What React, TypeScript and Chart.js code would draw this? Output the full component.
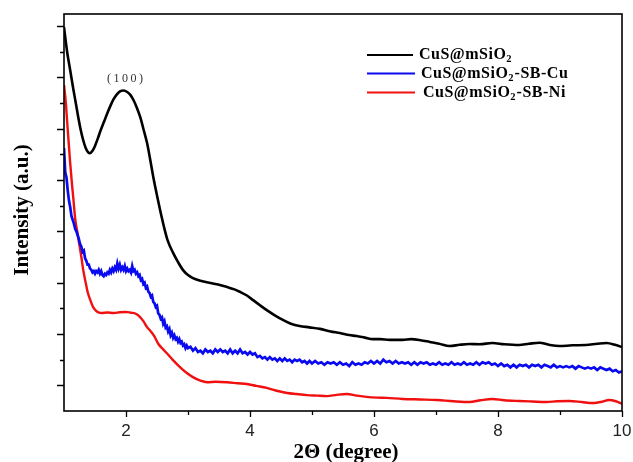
import React, { useEffect, useRef } from "react";
import { Chart, registerables } from "chart.js";

Chart.register(...registerables);

const seriesNames = ["CuS@mSiO", "CuS@mSiO", "CuS@mSiO"];
const seriesSuffix = ["", "-SB-Cu", "-SB-Ni"];
const seriesColors = ["#000000", "#0a0af0", "#f01010"];

const xTickValues = [2, 4, 6, 8, 10];
const xMinorTicks = [3, 5, 7, 9];
const yTickValues = [1, 2, 3, 4, 5, 6, 7, 8, 9, 10, 11, 12, 13, 14, 15];
const xMin = 1;
const xMax = 10;
const yMin = 0;
const yMax = 15.47;

const peakLabel = "(100)";
const xTitle = "2Θ (degree)";
const yTitle = "Intensity (a.u.)";

const blackData: number[][] = [
  [1.0, 14.96], [1.05, 14.0], [1.1, 13.28], [1.15, 12.55], [1.19, 12.0], [1.23, 11.45], [1.27, 10.95],
  [1.31, 10.55], [1.35, 10.25], [1.39, 10.08], [1.42, 10.05], [1.46, 10.14], [1.5, 10.33], [1.55, 10.65],
  [1.59, 10.93], [1.65, 11.3], [1.7, 11.61], [1.75, 11.9], [1.8, 12.15], [1.85, 12.33], [1.91, 12.46],
  [1.96, 12.49], [2.02, 12.43], [2.07, 12.32], [2.12, 12.12], [2.17, 11.85], [2.23, 11.45], [2.28, 11.0],
  [2.34, 10.44], [2.39, 9.8], [2.44, 9.12], [2.5, 8.4], [2.55, 7.83], [2.61, 7.2], [2.67, 6.66],
  [2.76, 6.16], [2.84, 5.8], [2.92, 5.49], [3.0, 5.3], [3.08, 5.18], [3.2, 5.08], [3.36, 4.99],
  [3.5, 4.92], [3.63, 4.83], [3.75, 4.74], [3.84, 4.64], [3.95, 4.5], [4.05, 4.32], [4.16, 4.12],
  [4.27, 3.93], [4.4, 3.73], [4.53, 3.55], [4.66, 3.4], [4.8, 3.31], [4.96, 3.26], [5.13, 3.2],
  [5.3, 3.1], [5.45, 3.04], [5.6, 2.96], [5.72, 2.92], [5.85, 2.86], [5.98, 2.8], [6.1, 2.8],
  [6.25, 2.77], [6.46, 2.77], [6.6, 2.8], [6.75, 2.76], [6.9, 2.69], [7.05, 2.62], [7.22, 2.53],
  [7.38, 2.58], [7.54, 2.61], [7.7, 2.6], [7.91, 2.65], [8.1, 2.6], [8.34, 2.57], [8.5, 2.62],
  [8.67, 2.66], [8.82, 2.58], [8.99, 2.53], [9.2, 2.56], [9.42, 2.57], [9.6, 2.62], [9.75, 2.65],
  [9.9, 2.57], [10.0, 2.49],
];

const blueData: number[][] = [
  [1.0, 10.25], [1.02, 9.3], [1.04, 9.1], [1.06, 8.6], [1.08, 8.2], [1.1, 7.95], [1.12, 7.6], [1.14, 7.45],
  [1.16, 7.3], [1.18, 7.1], [1.2, 7.0], [1.22, 6.85], [1.24, 6.7], [1.26, 6.5], [1.28, 6.4], [1.3, 6.2],
  [1.32, 6.25], [1.34, 5.95], [1.36, 5.85], [1.38, 5.7], [1.4, 5.7], [1.42, 5.55], [1.44, 5.5], [1.46, 5.4],
  [1.48, 5.45], [1.5, 5.35], [1.52, 5.45], [1.54, 5.4], [1.56, 5.5], [1.58, 5.35], [1.6, 5.45], [1.62, 5.3],
  [1.64, 5.25], [1.66, 5.35], [1.68, 5.3], [1.7, 5.4], [1.72, 5.35], [1.74, 5.5], [1.76, 5.4], [1.78, 5.55],
  [1.8, 5.45], [1.82, 5.6], [1.84, 5.5], [1.86, 5.75], [1.88, 5.55], [1.9, 5.7], [1.92, 5.5], [1.94, 5.6],
  [1.96, 5.5], [1.98, 5.65], [2.0, 5.45], [2.02, 5.55], [2.04, 5.45], [2.06, 5.5], [2.08, 5.4], [2.1, 5.65],
  [2.12, 5.45], [2.14, 5.5], [2.16, 5.35], [2.18, 5.4], [2.2, 5.25], [2.22, 5.3], [2.24, 5.1], [2.26, 5.15],
  [2.28, 4.95], [2.3, 5.0], [2.32, 4.8], [2.34, 4.85], [2.36, 4.65], [2.38, 4.6], [2.4, 4.45], [2.42, 4.5],
  [2.44, 4.25], [2.46, 4.2], [2.48, 4.05], [2.5, 4.1], [2.52, 3.8], [2.54, 3.75], [2.56, 3.6], [2.58, 3.65],
  [2.6, 3.4], [2.62, 3.5], [2.64, 3.25], [2.66, 3.3], [2.68, 3.1], [2.7, 3.2], [2.72, 2.95], [2.74, 3.05],
  [2.76, 2.85], [2.78, 2.95], [2.8, 2.8], [2.82, 2.85], [2.84, 2.7], [2.86, 2.8], [2.88, 2.65], [2.9, 2.7],
  [2.92, 2.55], [2.94, 2.6], [2.96, 2.45], [2.98, 2.55], [3.0, 2.45], [3.04, 2.5], [3.08, 2.35], [3.12, 2.45],
  [3.16, 2.3], [3.2, 2.35], [3.24, 2.25], [3.28, 2.4], [3.32, 2.3], [3.36, 2.35], [3.4, 2.25], [3.44, 2.4],
  [3.48, 2.3], [3.52, 2.4], [3.56, 2.3], [3.6, 2.35], [3.64, 2.25], [3.68, 2.4], [3.72, 2.25], [3.76, 2.35],
  [3.8, 2.25], [3.84, 2.4], [3.88, 2.25], [3.92, 2.3], [3.96, 2.2], [4.0, 2.3], [4.04, 2.2], [4.08, 2.25],
  [4.12, 2.1], [4.16, 2.15], [4.2, 2.05], [4.24, 2.1], [4.28, 2.0], [4.32, 2.1], [4.36, 2.0], [4.4, 2.05],
  [4.44, 1.95], [4.48, 2.05], [4.52, 1.95], [4.56, 2.05], [4.6, 1.95], [4.64, 2.0], [4.68, 1.9], [4.72, 2.0],
  [4.76, 1.95], [4.8, 2.0], [4.84, 1.9], [4.88, 1.95], [4.92, 1.85], [4.96, 1.95], [5.0, 1.85], [5.05, 1.95],
  [5.1, 1.85], [5.15, 1.9], [5.2, 1.8], [5.25, 1.9], [5.3, 1.85], [5.35, 1.9], [5.4, 1.8], [5.45, 1.9],
  [5.5, 1.8], [5.55, 1.85], [5.6, 1.75], [5.65, 1.9], [5.7, 1.8], [5.75, 1.85], [5.8, 1.8], [5.85, 1.9],
  [5.9, 1.85], [5.95, 1.95], [6.0, 1.85], [6.05, 1.95], [6.1, 1.85], [6.15, 2.0], [6.2, 1.9], [6.25, 1.95],
  [6.3, 1.85], [6.35, 1.95], [6.4, 1.85], [6.45, 1.9], [6.5, 1.85], [6.55, 1.9], [6.6, 1.8], [6.65, 1.9],
  [6.7, 1.8], [6.75, 1.9], [6.8, 1.85], [6.85, 1.9], [6.9, 1.8], [6.95, 1.85], [7.0, 1.8], [7.05, 1.9],
  [7.1, 1.8], [7.15, 1.85], [7.2, 1.8], [7.25, 1.9], [7.3, 1.8], [7.35, 1.85], [7.4, 1.8], [7.45, 1.9],
  [7.5, 1.8], [7.55, 1.85], [7.6, 1.8], [7.65, 1.9], [7.7, 1.8], [7.75, 1.9], [7.8, 1.85], [7.85, 1.9],
  [7.9, 1.8], [7.95, 1.85], [8.0, 1.75], [8.05, 1.85], [8.1, 1.75], [8.15, 1.8], [8.2, 1.7], [8.25, 1.8],
  [8.3, 1.7], [8.35, 1.8], [8.4, 1.75], [8.45, 1.8], [8.5, 1.7], [8.55, 1.8], [8.6, 1.75], [8.65, 1.8],
  [8.7, 1.7], [8.75, 1.8], [8.8, 1.75], [8.85, 1.7], [8.9, 1.8], [8.95, 1.7], [9.0, 1.75], [9.05, 1.7],
  [9.1, 1.75], [9.15, 1.7], [9.2, 1.75], [9.25, 1.65], [9.3, 1.75], [9.35, 1.7], [9.4, 1.65], [9.45, 1.7],
  [9.5, 1.65], [9.55, 1.7], [9.6, 1.6], [9.65, 1.7], [9.7, 1.65], [9.75, 1.6], [9.8, 1.65], [9.85, 1.55],
  [9.9, 1.6], [9.95, 1.5], [10.0, 1.55],
];

const redData: number[][] = [
  [1.0, 12.7], [1.03, 12.0], [1.05, 11.3], [1.08, 10.3], [1.1, 9.66], [1.13, 8.8], [1.15, 8.3], [1.18, 7.5],
  [1.22, 6.9], [1.25, 6.45], [1.28, 6.0], [1.31, 5.5], [1.35, 5.0], [1.38, 4.65], [1.42, 4.35], [1.47, 4.05],
  [1.53, 3.88], [1.6, 3.82], [1.7, 3.84], [1.8, 3.82], [1.9, 3.85], [2.0, 3.86], [2.08, 3.83], [2.15, 3.8],
  [2.22, 3.68], [2.28, 3.5], [2.34, 3.27], [2.4, 3.1], [2.46, 2.9], [2.52, 2.62], [2.6, 2.4], [2.67, 2.22],
  [2.75, 2.0], [2.87, 1.71], [2.97, 1.5], [3.08, 1.32], [3.2, 1.18], [3.31, 1.12], [3.45, 1.14], [3.63, 1.12],
  [3.8, 1.08], [3.95, 1.05], [4.1, 0.98], [4.27, 0.9], [4.45, 0.78], [4.6, 0.7], [4.75, 0.66], [4.92, 0.62],
  [5.08, 0.6], [5.24, 0.58], [5.4, 0.63], [5.56, 0.66], [5.72, 0.6], [5.88, 0.55], [6.05, 0.52], [6.2, 0.51],
  [6.46, 0.47], [6.75, 0.45], [7.01, 0.43], [7.28, 0.38], [7.54, 0.35], [7.72, 0.42], [7.91, 0.47], [8.1, 0.42],
  [8.34, 0.39], [8.55, 0.37], [8.78, 0.35], [8.95, 0.38], [9.15, 0.39], [9.35, 0.35], [9.52, 0.31], [9.68, 0.36],
  [9.79, 0.43], [9.9, 0.38], [10.0, 0.28],
];

const serif = "'Liberation Serif', 'Times New Roman', serif";
const sans = "'Liberation Sans', Arial, sans-serif";

const decorPlugin = {
  id: "decor",
  afterDraw(chart: any) {
    const { ctx, chartArea } = chart;
    const xs = chart.scales.x;
    const ys = chart.scales.y;
    ctx.save();
    // frame
    ctx.strokeStyle = "#000";
    ctx.lineWidth = 1.6;
    ctx.strokeRect(chartArea.left, chartArea.top, chartArea.right - chartArea.left, chartArea.bottom - chartArea.top);
    // x ticks
    ctx.lineWidth = 1.3;
    ctx.beginPath();
    for (const v of xTickValues) {
      const px = Math.round(xs.getPixelForValue(v)) + 0.5;
      ctx.moveTo(px, chartArea.bottom);
      ctx.lineTo(px, chartArea.bottom + 6);
    }
    for (const v of xMinorTicks) {
      const px = Math.round(xs.getPixelForValue(v)) + 0.5;
      ctx.moveTo(px, chartArea.bottom);
      ctx.lineTo(px, chartArea.bottom + 4);
    }
    // y ticks
    for (const v of yTickValues) {
      const py = Math.round(ys.getPixelForValue(v)) + 0.5;
      const len = v % 2 === 1 ? 7 : 4;
      ctx.moveTo(chartArea.left, py);
      ctx.lineTo(chartArea.left - len, py);
    }
    ctx.stroke();

    // peak label
    ctx.fillStyle = "#333";
    ctx.font = `12px ${serif}`;
    ctx.textBaseline = "middle";
    ctx.textAlign = "left";
    let lx = 107;
    for (const ch of peakLabel) {
      ctx.fillText(ch, lx, 79);
      lx += ctx.measureText(ch).width + 2.5;
    }

    // legend
    const rows = [
      { y: 55, x0: 367, x1: 413, tx: 419 },
      { y: 73.5, x0: 367, x1: 415, tx: 421 },
      { y: 92.5, x0: 367, x1: 415, tx: 423 },
    ];
    rows.forEach((r, i) => {
      ctx.strokeStyle = seriesColors[i];
      ctx.lineWidth = 2;
      ctx.beginPath();
      ctx.moveTo(r.x0, r.y);
      ctx.lineTo(r.x1, r.y);
      ctx.stroke();
      ctx.fillStyle = "#000";
      ctx.textBaseline = "alphabetic";
      (ctx as any).letterSpacing = "0.5px";
      ctx.font = `bold 16px ${serif}`;
      let tx = r.tx;
      const base = r.y + 4;
      ctx.fillText(seriesNames[i], tx, base);
      tx += ctx.measureText(seriesNames[i]).width;
      ctx.font = `bold 10.5px ${serif}`;
      ctx.fillText("2", tx, base + 3);
      tx += ctx.measureText("2").width + 0.5;
      ctx.font = `bold 16px ${serif}`;
      ctx.fillText(seriesSuffix[i], tx, base);
      (ctx as any).letterSpacing = "0px";
    });

    // axis titles
    ctx.fillStyle = "#000";
    ctx.font = `bold 21px ${serif}`;
    ctx.textAlign = "center";
    ctx.textBaseline = "alphabetic";
    ctx.fillText(xTitle, 346, 458);
    ctx.save();
    ctx.translate(28, 210);
    ctx.rotate(-Math.PI / 2);
    ctx.fillText(yTitle, 0, 0);
    ctx.restore();
    ctx.restore();
  },
};

export default function App() {
  const ref = useRef<HTMLCanvasElement | null>(null);
  useEffect(() => {
    document.body.style.margin = "0";
    const canvas = ref.current!;
    const toPts = (arr: number[][]) => arr.map(([x, y]) => ({ x, y }));
    const chart = new Chart(canvas, {
      type: "line",
      data: {
        datasets: [
          {
            label: seriesNames[0] + "2" + seriesSuffix[0],
            data: toPts(blackData),
            borderColor: seriesColors[0],
            borderWidth: 2.6,
            pointRadius: 0,
            cubicInterpolationMode: "monotone",
          },
          {
            label: seriesNames[1] + "2" + seriesSuffix[1],
            data: toPts(blueData),
            borderColor: seriesColors[1],
            borderWidth: 2.7,
            pointRadius: 0,
            tension: 0,
          },
          {
            label: seriesNames[2] + "2" + seriesSuffix[2],
            data: toPts(redData),
            borderColor: seriesColors[2],
            borderWidth: 2.4,
            pointRadius: 0,
            cubicInterpolationMode: "monotone",
          },
        ],
      },
      options: {
        animation: false,
        responsive: false,
        layout: { padding: { top: 14, right: 11, left: 0, bottom: 0 } },
        plugins: { legend: { display: false }, tooltip: { enabled: false } },
        scales: {
          x: {
            type: "linear",
            min: xMin,
            max: xMax,
            grid: { display: false, drawTicks: false },
            border: { display: false },
            ticks: { padding: 10, color: "#222", font: { family: sans, size: 17 }, maxRotation: 0 },
            afterBuildTicks: (s: any) => {
              s.ticks = xTickValues.map((v) => ({ value: v }));
            },
            afterFit: (s: any) => {
              s.height = 51;
              s.paddingLeft = 0;
              s.paddingRight = 0;
            },
          },
          y: {
            type: "linear",
            min: yMin,
            max: yMax,
            grid: { display: false, drawTicks: false },
            border: { display: false },
            ticks: { display: false },
            afterBuildTicks: (s: any) => {
              s.ticks = yTickValues.map((v) => ({ value: v }));
            },
            afterFit: (s: any) => {
              s.width = 64;
              s.paddingTop = 0;
              s.paddingBottom = 0;
            },
          },
        },
      },
      plugins: [decorPlugin],
    });
    return () => chart.destroy();
  }, []);
  return (
    <div style={{ position: "absolute", left: 0, top: 0, width: 633, height: 462, background: "#fff" }}>
      <canvas ref={ref} width={633} height={462} style={{ width: 633, height: 462 }} />
    </div>
  );
}
